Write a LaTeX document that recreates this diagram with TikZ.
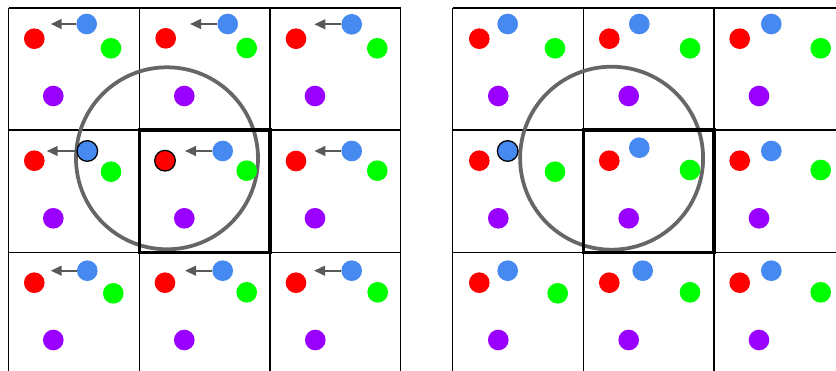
\documentclass[tikz,border=0pt]{standalone}
\usetikzlibrary{arrows.meta}

\definecolor{pred}{RGB}{255,0,0}
\definecolor{pblue}{RGB}{70,137,240}
\definecolor{pgreen}{RGB}{0,255,0}
\definecolor{ppurple}{RGB}{153,0,255}

\begin{document}
\begin{tikzpicture}[
    x=0.03cm, y=-0.03cm,
    gline/.style={line width=1.3pt, black},
    focus/.style={line width=2.9pt, black},
    cutoff/.style={line width=3.2pt, black!60},
    dot/.style={circle, inner sep=0pt, minimum size=0.62cm},
    rdot/.style={dot, fill=pred},
    bdot/.style={dot, fill=pblue},
    gdot/.style={dot, fill=pgreen},
    pdot/.style={dot, fill=ppurple},
    rring/.style={rdot, draw=black, line width=1.1pt},
    bring/.style={bdot, draw=black, line width=1.1pt},
    mv/.style={-{Triangle[length=3.3mm, width=2.9mm]}, line width=1.8pt, black!65}
]
    \useasboundingbox (0,0) rectangle (836,371);

    % Left grid
    \foreach \x in {8.7,139.3,270,400.7} \draw[gline] (\x,8) -- (\x,371);
    \foreach \y in {8,130,252.5} \draw[gline] (8.7,\y) -- (400.7,\y);

    % Right grid (cut at the right edge)
    \foreach \x in {452.7,583.3,714} \draw[gline] (\x,8) -- (\x,371);
    \foreach \y in {8,130,252.5} \draw[gline] (452.7,\y) -- (836,\y);

    % Cut-off circles and home cells
    \draw[cutoff] (167,158.3) circle[radius=2.73cm];
    \draw[cutoff] (611.6,158.2) circle[radius=2.745cm];
    \draw[focus] (139.3,130) rectangle (270,252.5);
    \draw[focus] (583.3,130) rectangle (714,252.5);

    % Left: particles with their shifts
    \foreach \n/\rs/\rx/\ry/\bs/\bx/\by/\gx/\gy/\px/\py/\tx in {
        L00/rdot/34.3/38.7/bdot/86.7/24/111/48.3/53.3/96/50.7,
        L01/rdot/165.7/38.3/bdot/227.7/24/246.7/48/184.3/96/190,
        L02/rdot/296/38.7/bdot/351.7/24.3/377.3/48.3/315/96/314.3,
        L10/rdot/34.3/160.7/bring/87.3/151/111/171.7/53.3/218.3/46.7,
        L11/rring/165/160.7/bdot/222.7/151/246.7/170.7/184.3/218.3/185,
        L12/rdot/296/161/bdot/351.7/151/377.3/170.7/315/218.3/314.3,
        L20/rdot/34.3/282.7/bdot/87.3/270.7/113.3/293.3/53.3/340/50.7,
        L21/rdot/165/282.7/bdot/222.7/270.7/246.7/292.3/184.3/340/185,
        L22/rdot/296/282.7/bdot/351.7/270.7/377.7/292.3/315.3/340/314} {
        \node[\rs] (\n r) at (\rx,\ry) {};
        \node[\bs] (\n b) at (\bx,\by) {};
        \node[gdot] (\n g) at (\gx,\gy) {};
        \node[pdot] (\n p) at (\px,\py) {};
        \coordinate (\n t) at (\tx,\by);
        \draw[mv] (\n b) -- (\n t);
    }

    % Right: particles after the shift
    \foreach \n/\rx/\ry/\bs/\bx/\by/\gx/\gy/\px/\py in {
        R00/479.3/38.7/bdot/507.7/24/555/48.3/498.3/96,
        R01/609.3/38.7/bdot/639.3/24/690/48.3/628.7/96,
        R02/739.7/38.7/bdot/771.3/24/820.7/48.3/759/96,
        R10/479.3/160.7/bring/507.7/151/555/171.7/498.3/218.3,
        R11/609.3/160.7/bdot/639.3/147.7/690/170/628.7/218.3,
        R12/739.7/160.7/bdot/771.3/151/820.7/170/759/218.3,
        R20/479.3/282.7/bdot/507.7/270.7/557.7/293.3/498.3/340,
        R21/609.3/282.7/bdot/642.7/270.7/690/292.3/628.7/340,
        R22/739.7/282.7/bdot/771.3/270.7/820.7/292.3/759/340} {
        \node[rdot] (\n r) at (\rx,\ry) {};
        \node[\bs] (\n b) at (\bx,\by) {};
        \node[gdot] (\n g) at (\gx,\gy) {};
        \node[pdot] (\n p) at (\px,\py) {};
    }
\end{tikzpicture}
\end{document}
